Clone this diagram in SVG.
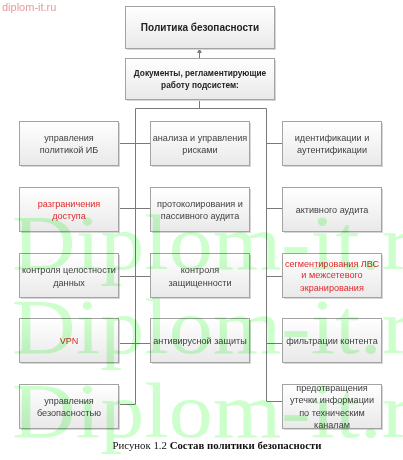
<svg xmlns="http://www.w3.org/2000/svg" width="403" height="460" viewBox="0 0 403 460">
<defs>
<linearGradient id="g" x1="0" y1="0" x2="0" y2="1">
<stop offset="0" stop-color="#ffffff"/>
<stop offset="1" stop-color="#e9e9e9"/>
</linearGradient>
<marker id="ar" viewBox="0 0 6 6" refX="5" refY="3" markerWidth="5" markerHeight="5" orient="auto">
<path d="M0,0 L6,3 L0,6 z" fill="#7a7a7a"/>
</marker>
</defs>
<style>
.b{fill:url(#g);stroke:#a3a3a3;stroke-width:1}
.s{fill:#d6d6d6}
.t{font-family:"Liberation Sans",Arial,sans-serif;font-size:9.1px;fill:#404040;text-anchor:middle}
.r{fill:#e0282a}
.h{font-weight:bold;fill:#222}
.c{fill:none;stroke:#7a7a7a;stroke-width:1}
.wm{font-family:"Liberation Serif","Times New Roman",serif;font-size:78px;fill:#ccffcc;mix-blend-mode:multiply}
</style>
<rect width="403" height="460" fill="#ffffff"/>
<text x="2" y="11" font-family="Liberation Sans,Arial,sans-serif" font-size="11" fill="#e69a9a">diplom-it.ru</text>

<g id="connectors">
<line class="c" x1="199.5" y1="58" x2="199.5" y2="49" marker-end="url(#ar)"/>
<polyline class="c" points="199.5,99 199.5,108"/>
<polyline class="c" points="135.5,404 135.5,108.5 266.5,108.5 266.5,401"/>
<line class="c" x1="118" y1="143.5" x2="150" y2="143.5"/>
<line class="c" x1="118" y1="208.5" x2="150" y2="208.5"/>
<line class="c" x1="118" y1="276.5" x2="150" y2="276.5"/>
<line class="c" x1="118" y1="343.5" x2="150" y2="343.5"/>
<line class="c" x1="118" y1="404.5" x2="135.5" y2="404.5"/>
<line class="c" x1="266.5" y1="143.5" x2="282" y2="143.5"/>
<line class="c" x1="266.5" y1="208.5" x2="282" y2="208.5"/>
<line class="c" x1="266.5" y1="276.5" x2="282" y2="276.5"/>
<line class="c" x1="266.5" y1="343.5" x2="282" y2="343.5"/>
<line class="c" x1="266.5" y1="401.5" x2="282" y2="401.5"/>
</g>

<g id="policy">
<rect class="s" x="127" y="8" width="149" height="42"/>
<rect class="b" x="125.5" y="6.5" width="149" height="42"/>
<text class="t h" x="200" y="31" style="font-size:10px">Политика безопасности</text>
</g>
<g id="docs">
<rect class="s" x="127" y="60" width="149" height="41"/>
<rect class="b" x="125.5" y="58.5" width="149" height="41"/>
<text class="t h" x="200" y="76" style="font-size:8.3px">Документы, регламентирующие</text>
<text class="t h" x="200" y="88" style="font-size:8.3px">работу подсистем:</text>
</g>

<g id="l1"><rect class="s" x="21" y="123" width="99" height="44"/><rect class="b" x="19.5" y="121.5" width="99" height="44"/>
<text class="t" x="69" y="140.5">управления</text><text class="t" x="69" y="152.5">политикой ИБ</text></g>
<g id="l2"><rect class="s" x="21" y="189" width="99" height="44"/><rect class="b" x="19.5" y="187.5" width="99" height="44"/>
<text class="t r" x="69" y="206.5">разграничения</text><text class="t r" x="69" y="218.5">доступа</text></g>
<g id="l3"><rect class="s" x="21" y="255" width="99" height="44"/><rect class="b" x="19.5" y="253.5" width="99" height="44"/>
<text class="t" x="69" y="272.5">контроля целостности</text><text class="t" x="69" y="285.5">данных</text></g>
<g id="l4"><rect class="s" x="21" y="320" width="99" height="44"/><rect class="b" x="19.5" y="318.5" width="99" height="44"/>
<text class="t r" x="69" y="343.5">VPN</text></g>
<g id="l5"><rect class="s" x="21" y="386" width="99" height="44"/><rect class="b" x="19.5" y="384.5" width="99" height="44"/>
<text class="t" x="69" y="403.5">управления</text><text class="t" x="69" y="415.5">безопасностью</text></g>

<g id="m1"><rect class="s" x="152" y="123" width="99" height="44"/><rect class="b" x="150.5" y="121.5" width="99" height="44"/>
<text class="t" x="200" y="140.5">анализа и управления</text><text class="t" x="200" y="152.5">рисками</text></g>
<g id="m2"><rect class="s" x="152" y="189" width="99" height="44"/><rect class="b" x="150.5" y="187.5" width="99" height="44"/>
<text class="t" x="200" y="206.5">протоколирования и</text><text class="t" x="200" y="218.5">пассивного аудита</text></g>
<g id="m3"><rect class="s" x="152" y="255" width="99" height="44"/><rect class="b" x="150.5" y="253.5" width="99" height="44"/>
<text class="t" x="200" y="272.5">контроля</text><text class="t" x="200" y="285.5">защищенности</text></g>
<g id="m4"><rect class="s" x="152" y="320" width="99" height="44"/><rect class="b" x="150.5" y="318.5" width="99" height="44"/>
<text class="t" x="200" y="343.5">антивирусной защиты</text></g>

<g id="r1"><rect class="s" x="284" y="123" width="99" height="44"/><rect class="b" x="282.5" y="121.5" width="99" height="44"/>
<text class="t" x="332" y="140.5">идентификации и</text><text class="t" x="332" y="152.5">аутентификации</text></g>
<g id="r2"><rect class="s" x="284" y="189" width="99" height="44"/><rect class="b" x="282.5" y="187.5" width="99" height="44"/>
<text class="t" x="332" y="212.5">активного аудита</text></g>
<g id="r3"><rect class="s" x="284" y="255" width="99" height="44"/><rect class="b" x="282.5" y="253.5" width="99" height="44"/>
<text class="t r" x="332" y="266.5">сегментирования ЛВС</text><text class="t r" x="332" y="278">и межсетевого</text><text class="t r" x="332" y="290.5">экранирования</text></g>
<g id="r4"><rect class="s" x="284" y="320" width="99" height="44"/><rect class="b" x="282.5" y="318.5" width="99" height="44"/>
<text class="t" x="332" y="343.5">фильтрации контента</text></g>
<g id="r5"><rect class="s" x="284" y="386" width="99" height="44"/><rect class="b" x="282.5" y="384.5" width="99" height="44"/>
<text class="t" x="332" y="390.5">предотвращения</text><text class="t" x="332" y="403">утечки информации</text><text class="t" x="332" y="415.5">по техническим</text><text class="t" x="332" y="427.5">каналам</text></g>

<text x="217" y="449" font-family="Liberation Serif,Times New Roman,serif" font-size="10.8" fill="#111" text-anchor="middle">Рисунок 1.2 <tspan font-weight="bold">Состав политики безопасности</tspan></text>

<g id="watermark">
<text class="wm" transform="translate(12,269) scale(1.13,1)">Diplom-it.ru</text>
<text class="wm" transform="translate(12,353) scale(1.13,1)">Diplom-it.ru</text>
<text class="wm" transform="translate(12,437) scale(1.13,1)">Diplom-it.ru</text>
</g>
</svg>
